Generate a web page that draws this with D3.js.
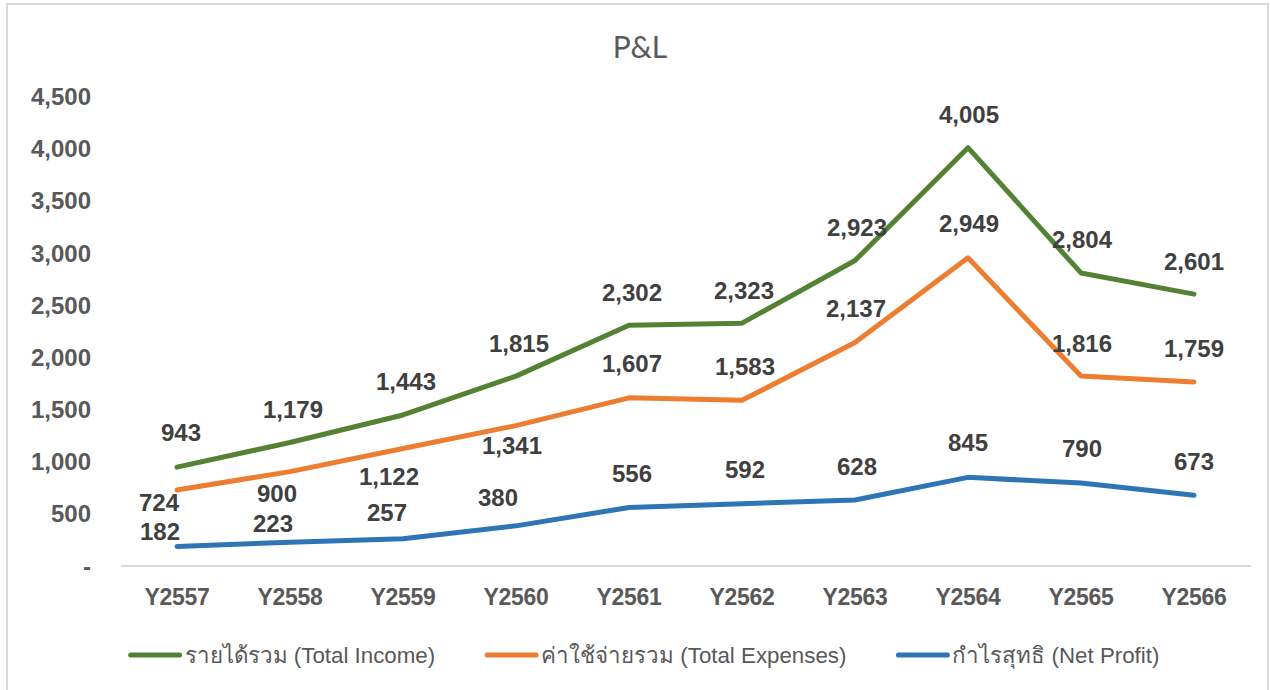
<!DOCTYPE html>
<html>
<head>
<meta charset="utf-8">
<title>P&amp;L</title>
<script src="https://cdn.jsdelivr.net/npm/d3@7"></script>
<style>
  body { margin: 0; background: #fff; }
  svg { display: block; }
</style>
</head>
<body>
<div id="chart"></div>
<script>
  // data (million baht)
  var years = ["Y2557", "Y2558", "Y2559", "Y2560", "Y2561", "Y2562", "Y2563", "Y2564", "Y2565", "Y2566"];
  var totalIncome = [943, 1179, 1443, 1815, 2302, 2323, 2923, 4005, 2804, 2601];
  var totalExpenses = [724, 900, 1122, 1341, 1607, 1583, 2137, 2949, 1816, 1759];
  var netProfit = [182, 223, 257, 380, 556, 592, 628, 845, 790, 673];
  var seriesNames = ["รายได้รวม (Total Income)", "ค่าใช้จ่ายรวม (Total Expenses)", "กำไรสุทธิ (Net Profit)"];
  var yTicks = [0, 500, 1000, 1500, 2000, 2500, 3000, 3500, 4000, 4500];

  // label nudges [dx, dy] from each point, as placed in the original
  var incomeLabelPos = [[4,-35],[3,-33],[3,-34],[3,-33],[3,-33],[2,-33],[2,-33],[1,-33],[1,-34],[0,-33]];
  var expenseLabelPos = [[-18,12],[-13,22],[-14,28],[-4,20],[3,-34],[3,-34],[1,-34],[1,-34],[1,-33],[0,-34]];
  var profitLabelPos = [[-17,-15],[-17,-19],[-16,-26],[-18,-28],[3,-34],[3,-34],[2,-34],[0,-35],[1,-35],[0,-34]];

  var colors = ["#548235", "#ED7D31", "#2E75B6"];

  var W = 1270, H = 690;
  var numFont = "'Liberation Sans', Arial, sans-serif";
  var legendFont = "'Liberation Sans', Arial, sans-serif";

  var svg = d3.select("#chart").append("svg")
    .attr("width", W)
    .attr("height", H);

  svg.append("rect")
    .attr("x", 7).attr("y", 4)
    .attr("width", 1261).attr("height", 700)
    .attr("fill", "#fff")
    .attr("stroke", "#d9d9d9")
    .attr("stroke-width", 2);

  svg.append("text")
    .attr("x", 640).attr("y", 58)
    .attr("text-anchor", "middle")
    .style("font-family", "Lato, 'Open Sans', sans-serif")
    .style("font-size", "30px")
    .style("fill", "#595959")
    .text("P&L");

  var x = d3.scaleBand().domain(years).range([120.5, 1250.5]);
  var y = d3.scaleLinear().domain([0, 4500]).range([565.5, 96]);
  var cx = function(i) { return x(years[i]) + x.bandwidth() / 2; };

  // y axis
  var yAxis = d3.axisLeft(y).tickValues(yTicks).tickSize(0).tickPadding(0)
    .tickFormat(function(d) { return d === 0 ? "-" : d3.format(",")(d); });
  var gy = svg.append("g").attr("transform", "translate(91,0)").call(yAxis);
  gy.select(".domain").remove();
  gy.selectAll("text")
    .attr("dy", "0.36em")
    .style("font-family", numFont)
    .style("font-size", "24px")
    .style("font-weight", "bold")
    .style("fill", "#595959");

  // x axis
  var xAxis = d3.axisBottom(x).tickSize(0).tickSizeOuter(0).tickPadding(23);
  var gx = svg.append("g").attr("transform", "translate(0,565.5)").call(xAxis);
  gx.select(".domain").attr("stroke", "#d9d9d9").attr("stroke-width", 2);
  gx.selectAll("text")
    .attr("dy", "0.71em")
    .style("font-family", numFont)
    .style("font-size", "23px")
    .style("font-weight", "bold")
    .style("letter-spacing", "-0.3px")
    .style("fill", "#595959");

  var series = [
    { name: seriesNames[0], values: totalIncome, pos: incomeLabelPos, color: colors[0] },
    { name: seriesNames[1], values: totalExpenses, pos: expenseLabelPos, color: colors[1] },
    { name: seriesNames[2], values: netProfit, pos: profitLabelPos, color: colors[2] }
  ];

  var line = d3.line()
    .x(function(d, i) { return cx(i); })
    .y(function(d) { return y(d); });

  var g = svg.selectAll(".series")
    .data(series)
    .enter().append("g")
    .attr("class", "series");

  g.append("path")
    .attr("d", function(d) { return line(d.values); })
    .attr("fill", "none")
    .attr("stroke", function(d) { return d.color; })
    .attr("stroke-width", 5)
    .attr("stroke-linecap", "round")
    .attr("stroke-linejoin", "round");

  // data labels
  series.forEach(function(s) {
    svg.append("g").selectAll("text")
      .data(s.values)
      .enter().append("text")
      .attr("x", function(d, i) { return cx(i) + s.pos[i][0]; })
      .attr("y", function(d, i) { return y(d) + s.pos[i][1]; })
      .attr("dy", "0.36em")
      .attr("text-anchor", "middle")
      .style("font-family", numFont)
      .style("font-size", "24px")
      .style("font-weight", "bold")
      .style("fill", "#404040")
      .text(function(d) { return d3.format(",")(d); });
  });

  // legend, centred under the plot
  var legend = svg.append("g");
  var lx = 0;
  series.forEach(function(s, i) {
    var item = legend.append("g").attr("transform", "translate(" + lx + ",0)");
    item.append("line")
      .attr("x1", 2).attr("x2", 51)
      .attr("y1", 0).attr("y2", 0)
      .attr("stroke", s.color)
      .attr("stroke-width", 5)
      .attr("stroke-linecap", "round");
    var t = item.append("text")
      .attr("x", 56).attr("y", 0).attr("dy", "0.36em")
      .style("font-family", legendFont)
      .style("font-size", "22.3px")
      .style("fill", "#595959")
      .text(s.name);
    lx += 56 + t.node().getComputedTextLength() + 50;
  });
  var legendW = lx - 50;
  legend.attr("transform", "translate(" + (644 - legendW / 2) + ",655)");
</script>
</body>
</html>
